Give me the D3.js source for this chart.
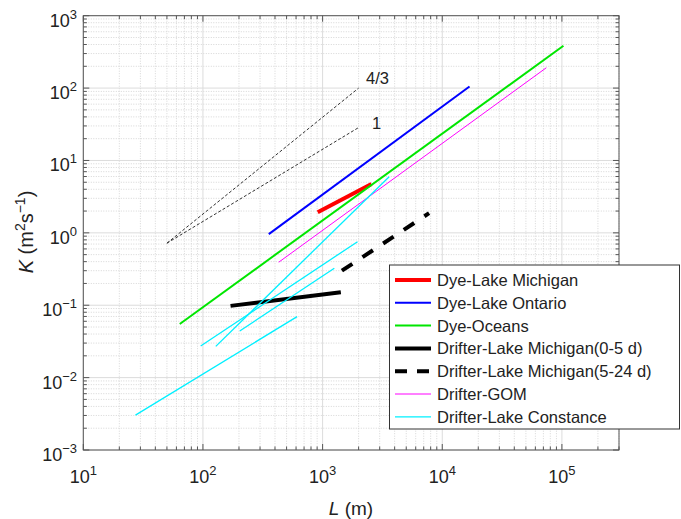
<!DOCTYPE html>
<meta charset="utf-8">
<style>
  body { margin: 0; background: #fff; }
  svg { display: block; font-family: "Liberation Sans", Arial, sans-serif; }
</style>
<svg width="681" height="519"></svg>
<script src="https://d3js.org/d3.v7.min.js"></script>
<script>

// values, [L (m), K (m2/s)] end points
var seriesNames = ["Dye-Lake Michigan", "Dye-Lake Ontario", "Dye-Oceans",
    "Drifter-Lake Michigan(0-5 d)", "Drifter-Lake Michigan(5-24 d)",
    "Drifter-GOM", "Drifter-Lake Constance"];
var dyeMichigan = [[910, 1.92], [2560, 4.73]];
var dyeOntario = [[355, 0.96], [16900, 105]];
var dyeOceans = [[64, 0.055], [103000, 385]];
var drifterMichigan05 = [[170, 0.098], [1420, 0.151]];
var drifterMichigan524 = [[1450, 0.30], [7760, 1.87]];
var drifterGOM = [[430, 0.393], [74100, 191]];
var drifterConstance = [
  [[27.3, 0.00303], [612, 0.0697]],
  [[95.7, 0.0274], [1958, 0.755]],
  [[128, 0.0270], [3600, 5.97]],
  [[203, 0.044], [1253, 0.324]]
];
var slope43 = [[50, 0.72], [2000, 100]];
var slope1 = [[50, 0.72], [2000, 28.5]];
var slopeLabels = ["4/3", "1"];

var xTicks = [1e1, 1e2, 1e3, 1e4, 1e5];
var yTicks = [1e-3, 1e-2, 1e-1, 1e0, 1e1, 1e2, 1e3];

var svg = d3.select("svg");
var pLeft = 83.3, pRight = 619, pTop = 15.7, pBottom = 450;

var x = d3.scaleLog().domain([10, 3e5]).range([pLeft, pRight]);
var y = d3.scaleLog().domain([1e-3, 1e3]).range([pBottom, pTop]);

// minor values for grid and ticks
var xMinor = [], yMinor = [];
for (var e = 1; e <= 5; e++) for (var m = 2; m <= 9; m++) {
  var v = m * Math.pow(10, e);
  if (v <= 3e5) xMinor.push(v);
}
for (var e = -3; e < 3; e++) for (var m = 2; m <= 9; m++) yMinor.push(m * Math.pow(10, e));

var grid = svg.append("g");
grid.selectAll(".xm").data(xMinor).enter().append("line")
    .attr("x1", d => x(d)).attr("x2", d => x(d)).attr("y1", pTop).attr("y2", pBottom)
    .attr("stroke", "#d6d6d6").attr("stroke-dasharray", "1,1.5");
grid.selectAll(".ym").data(yMinor).enter().append("line")
    .attr("y1", d => y(d)).attr("y2", d => y(d)).attr("x1", pLeft).attr("x2", pRight)
    .attr("stroke", "#d6d6d6").attr("stroke-dasharray", "1,1.5");
grid.selectAll(".xM").data(xTicks).enter().append("line")
    .attr("x1", d => x(d)).attr("x2", d => x(d)).attr("y1", pTop).attr("y2", pBottom)
    .attr("stroke", "#dcdcdc");
grid.selectAll(".yM").data(yTicks).enter().append("line")
    .attr("y1", d => y(d)).attr("y2", d => y(d)).attr("x1", pLeft).attr("x2", pRight)
    .attr("stroke", "#dcdcdc");

// ticks on all four sides, pointing inward
var ticks = svg.append("g").attr("stroke", "#555");
function tickSet(vals, len) {
  vals.forEach(function(v) {
    ticks.append("line").attr("x1", x(v)).attr("x2", x(v)).attr("y1", pBottom).attr("y2", pBottom - len);
    ticks.append("line").attr("x1", x(v)).attr("x2", x(v)).attr("y1", pTop).attr("y2", pTop + len);
  });
}
function tickSetY(vals, len) {
  vals.forEach(function(v) {
    ticks.append("line").attr("y1", y(v)).attr("y2", y(v)).attr("x1", pLeft).attr("x2", pLeft + len);
    ticks.append("line").attr("y1", y(v)).attr("y2", y(v)).attr("x1", pRight).attr("x2", pRight - len);
  });
}
tickSet(xTicks, 6); tickSet(xMinor, 3.5);
tickSetY(yTicks, 6); tickSetY(yMinor, 3.5);

var line = d3.line().x(d => x(d[0])).y(d => y(d[1]));
var plot = svg.append("g").attr("fill", "none");

plot.append("path").datum(slope43).attr("d", line)
    .attr("stroke", "#333").attr("stroke-width", 1).attr("stroke-dasharray", "3,2");
plot.append("path").datum(slope1).attr("d", line)
    .attr("stroke", "#333").attr("stroke-width", 1).attr("stroke-dasharray", "3,2");

var styles = [
  {data: [dyeMichigan], color: "#ff0000", width: 4},
  {data: [dyeOntario], color: "#0000ff", width: 2},
  {data: [dyeOceans], color: "#00e600", width: 2},
  {data: [drifterMichigan05], color: "#000", width: 4},
  {data: [drifterMichigan524], color: "#000", width: 4, dash: "12.5,12.2"},
  {data: [drifterGOM], color: "#ff00ff", width: 1},
  {data: drifterConstance, color: "#00f0ff", width: 1.3}
];
styles.forEach(function(s) {
  s.data.forEach(function(seg) {
    plot.append("path").datum(seg).attr("d", line)
        .attr("stroke", s.color).attr("stroke-width", s.width)
        .attr("stroke-dasharray", s.dash || null);
  });
});

svg.append("text").attr("x", 366).attr("y", 84).attr("font-size", 16.5)
    .attr("fill", "#222").text(slopeLabels[0]);
svg.append("text").attr("x", 372).attr("y", 129).attr("font-size", 16.5)
    .attr("fill", "#222").text(slopeLabels[1]);

// axes box
svg.append("rect").attr("x", pLeft).attr("y", pTop)
    .attr("width", pRight - pLeft).attr("height", pBottom - pTop)
    .attr("fill", "none").attr("stroke", "#555");

// tick labels
function pow(t) { return String(Math.round(Math.log10(t))).replace("-", "\u2212"); }
var xl = svg.append("g").attr("font-size", 18).attr("fill", "#222");
xTicks.forEach(function(t) {
  var tx = xl.append("text").attr("x", x(t)).attr("y", 483).attr("text-anchor", "middle");
  tx.append("tspan").text("10");
  tx.append("tspan").attr("dy", -8).attr("font-size", 13).text(pow(t));
});
yTicks.forEach(function(t) {
  var tx = xl.append("text").attr("x", 77).attr("y", y(t) + 11).attr("text-anchor", "end");
  tx.append("tspan").text("10");
  tx.append("tspan").attr("dy", -8).attr("font-size", 13).text(pow(t));
});

// axis labels
var xlab = svg.append("text").attr("x", 351).attr("y", 515).attr("text-anchor", "middle")
    .attr("font-size", 19).attr("fill", "#222");
xlab.append("tspan").attr("font-style", "italic").text("L");
xlab.append("tspan").text(" (m)");

var ylab = svg.append("text").attr("transform", "translate(33,232) rotate(-90)")
    .attr("text-anchor", "middle").attr("font-size", 20).attr("fill", "#222");
ylab.append("tspan").attr("font-style", "italic").text("K");
ylab.append("tspan").text(" (m");
ylab.append("tspan").attr("dy", -8).attr("font-size", 14).text("2");
ylab.append("tspan").attr("dy", 8).text("s");
ylab.append("tspan").attr("dy", -8).attr("font-size", 14).text("\u22121");
ylab.append("tspan").attr("dy", 8).text(")");

// legend
var lg = svg.append("g");
lg.append("rect").attr("x", 389.5).attr("y", 265).attr("width", 290).attr("height", 164)
    .attr("fill", "#fff").attr("stroke", "#333");
seriesNames.forEach(function(name, i) {
  var s = styles[i], cy = 280 + i * 22.8;
  lg.append("line").attr("x1", 395).attr("x2", 431).attr("y1", cy).attr("y2", cy)
      .attr("stroke", s.color).attr("stroke-width", s.width)
      .attr("stroke-dasharray", s.dash ? "12,10" : null);
  lg.append("text").attr("x", 437).attr("y", cy + 6).attr("font-size", 16.5)
      .attr("fill", "#222").text(name);
});

</script>
